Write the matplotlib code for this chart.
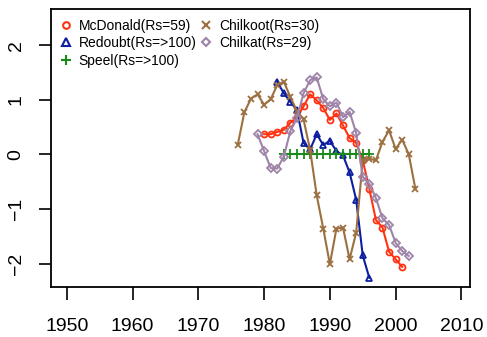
import numpy as np
import matplotlib.pyplot as plt

plt.rcParams['font.family'] = ['Liberation Sans', 'DejaVu Sans']

# Standardized series by year
mcd_years = np.arange(1980, 2002)
mcd_vals = [0.37, 0.37, 0.41, 0.45, 0.58, 0.68, 0.88, 1.10, 0.99, 0.85, 0.63,
            0.75, 0.53, 0.30, 0.21, -0.11, -0.63, -1.20, -1.34, -1.78, -1.92, -2.06]

red_years = np.arange(1982, 1997)
red_vals = [1.33, 1.12, 0.96, 0.81, 0.21, 0.09, 0.37, 0.17, 0.25, 0.06, -0.02,
            -0.33, -0.83, -1.85, -2.26]

spe_years = np.arange(1983, 1997)
spe_vals = [0.0] * 14

chk_years = np.arange(1976, 2004)
chk_vals = [0.18, 0.77, 1.02, 1.10, 0.91, 1.01, 1.27, 1.33, 1.05, 0.79, 0.64,
            0.08, -0.75, -1.36, -2.01, -1.36, -1.34, -1.92, -1.43, -0.11, -0.08,
            -0.11, 0.23, 0.44, 0.10, 0.27, 0.0, -0.63]

cht_years = np.arange(1979, 2003)
cht_vals = [0.37, 0.06, -0.25, -0.26, -0.04, 0.43, 0.66, 1.12, 1.36, 1.41, 1.01,
            0.88, 0.95, 0.68, 0.78, 0.39, -0.41, -0.54, -0.80, -1.17, -1.29,
            -1.62, -1.77, -1.86]

labels = ['McDonald(Rs=59)', 'Redoubt(Rs=>100)', 'Speel(Rs=>100)',
          'Chilkoot(Rs=30)', 'Chilkat(Rs=29)']
colors = ['#FF3311', '#0D1FA0', '#1A8A1A', '#9C7040', '#9E84A8']
markers = ['o', '^', '+', 'x', 'D']
sizes = [4.3, 5, 6.5, 5, 4]

series = [(mcd_years, mcd_vals), (red_years, red_vals), (spe_years, spe_vals),
          (chk_years, chk_vals), (cht_years, cht_vals)]

fig = plt.figure(figsize=(4.87, 3.37), dpi=100)
ax = fig.add_axes([0.1047, 0.148, 0.8603, 0.825])

handles = []
for (x, y), lab, c, m, s in zip(series, labels, colors, markers, sizes):
    ax.plot(x, y, color=c, lw=1.5, marker=m, ms=s, mfc='none', mec=c, mew=1.3)
    h, = ax.plot([], [], ls='none', color=c, marker=m, ms=s + 0.5, mfc='none',
                 mec=c, mew=1.5, label=lab)
    handles.append(h)

ax.set_xlim(1947.6, 2011.3)
ax.set_ylim(-2.43, 2.66)
ax.set_xticks(np.arange(1950, 2011, 10))
ax.set_yticks([-2, -1, 0, 1, 2])
ax.tick_params(labelsize=14, length=9, width=1.2)
ax.tick_params(axis='x', pad=13)
ax.tick_params(axis='y', pad=10)
plt.setp(ax.get_yticklabels(), rotation=90, va='center')
for sp in ax.spines.values():
    sp.set_linewidth(1.3)

ax.legend(handles=handles, ncol=2, loc='upper left', frameon=False,
          fontsize=10, handlelength=0.8, handletextpad=0.5,
          columnspacing=0.3, labelspacing=0.25, borderaxespad=0.4,
          borderpad=0.3)

fig.savefig('out.png', dpi=100)
